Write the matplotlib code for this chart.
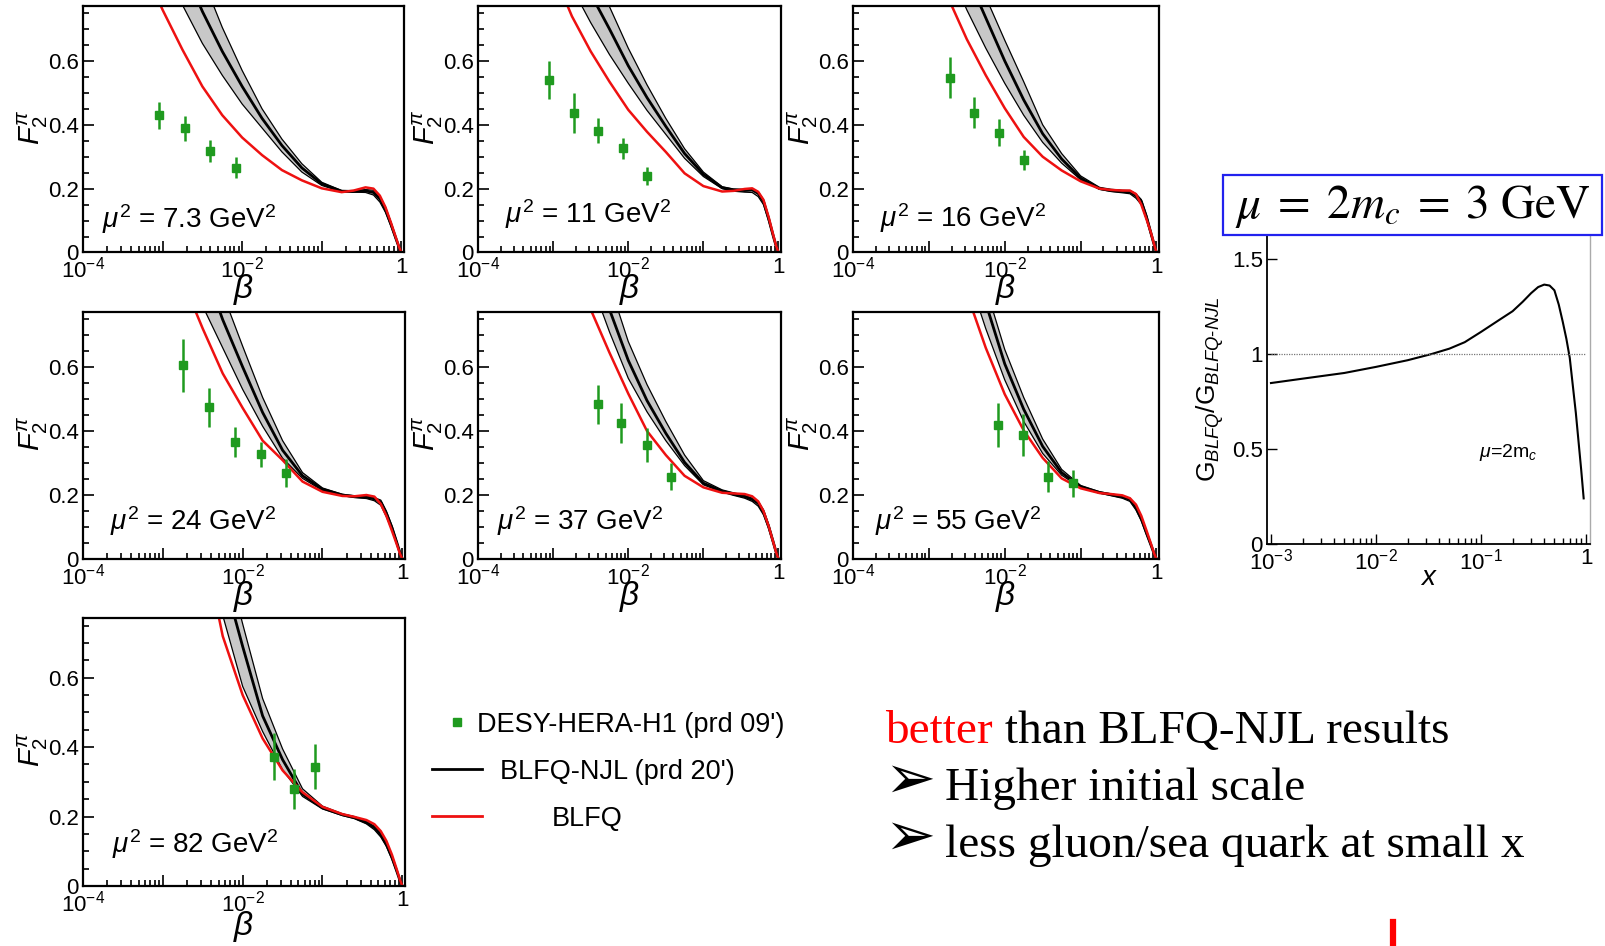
import numpy as np
import matplotlib.pyplot as plt
from matplotlib.ticker import FixedLocator, MultipleLocator, LogLocator, NullFormatter
from matplotlib.patches import Rectangle
from matplotlib.lines import Line2D

W, H = 1606, 946

plt.rcParams['font.family'] = ['Liberation Sans', 'DejaVu Sans']
plt.rcParams['mathtext.fontset'] = 'custom'
plt.rcParams['mathtext.rm'] = 'Liberation Sans'
plt.rcParams['mathtext.it'] = 'Liberation Sans:italic'
plt.rcParams['mathtext.bf'] = 'Liberation Sans:bold'

# common log10(beta) grid for the model curves
log_beta = [-3.25, -3.0, -2.75, -2.5, -2.25, -2.0, -1.75, -1.5, -1.25, -1.0,
            -0.75, -0.6, -0.45, -0.35, -0.27, -0.2, -0.13, -0.07, -0.03, 0.0]

# mu^2 = 7.3
red_73 = [0.90, 0.76, 0.635, 0.52, 0.43, 0.36, 0.305, 0.258, 0.226, 0.201, 0.189, 0.194, 0.204, 0.200, 0.178, 0.142, 0.093, 0.048, 0.018, 0.0]
njl_73 = [1.25, 1.08, 0.90, 0.755, 0.63, 0.52, 0.42, 0.335, 0.265, 0.215, 0.192, 0.191, 0.193, 0.188, 0.168, 0.135, 0.088, 0.045, 0.017, 0.0]
lo_73 = [1.10, 0.92, 0.775, 0.655, 0.555, 0.465, 0.39, 0.315, 0.252, 0.210, 0.190, 0.189, 0.188, 0.180, 0.158, 0.126, 0.082, 0.041, 0.015, 0.0]
hi_73 = [1.40, 1.20, 1.05, 0.86, 0.705, 0.57, 0.45, 0.355, 0.278, 0.220, 0.194, 0.194, 0.197, 0.195, 0.176, 0.143, 0.094, 0.049, 0.019, 0.0]
beta_73 = [9.0e-4, 1.9e-3, 4.0e-3, 8.4e-3]
f2_73 = [0.43, 0.389, 0.318, 0.266]
err_73 = [0.042, 0.039, 0.035, 0.032]

# mu^2 = 11
red_11 = [1.05, 0.88, 0.74, 0.63, 0.535, 0.447, 0.378, 0.315, 0.248, 0.208, 0.191, 0.193, 0.199, 0.201, 0.190, 0.165, 0.110, 0.055, 0.020, 0.0]
njl_11 = [1.30, 1.15, 1.00, 0.81, 0.70, 0.585, 0.485, 0.395, 0.31, 0.245, 0.203, 0.196, 0.194, 0.196, 0.185, 0.160, 0.105, 0.052, 0.019, 0.0]
lo_11 = [1.15, 1.00, 0.83, 0.72, 0.62, 0.53, 0.445, 0.37, 0.295, 0.238, 0.200, 0.192, 0.189, 0.188, 0.175, 0.150, 0.098, 0.048, 0.017, 0.0]
hi_11 = [1.50, 1.30, 1.10, 0.88, 0.77, 0.64, 0.525, 0.42, 0.325, 0.252, 0.206, 0.199, 0.198, 0.200, 0.190, 0.166, 0.111, 0.056, 0.021, 0.0]
beta_11 = [8.7e-4, 1.9e-3, 3.9e-3, 8.4e-3, 1.8e-2]
f2_11 = [0.541, 0.437, 0.382, 0.326, 0.24]
err_11 = [0.06, 0.063, 0.04, 0.034, 0.029]

# mu^2 = 16
red_16 = [1.20, 1.00, 0.80, 0.668, 0.555, 0.452, 0.362, 0.30, 0.257, 0.223, 0.200, 0.196, 0.194, 0.194, 0.183, 0.150, 0.103, 0.060, 0.025, 0.0]
njl_16 = [1.40, 1.20, 1.05, 0.87, 0.735, 0.60, 0.478, 0.372, 0.293, 0.233, 0.200, 0.194, 0.191, 0.190, 0.178, 0.160, 0.110, 0.058, 0.024, 0.0]
lo_16 = [1.20, 1.05, 0.90, 0.76, 0.64, 0.53, 0.43, 0.345, 0.28, 0.228, 0.198, 0.191, 0.187, 0.184, 0.170, 0.150, 0.102, 0.052, 0.021, 0.0]
hi_16 = [1.50, 1.35, 1.20, 1.00, 0.80, 0.665, 0.535, 0.40, 0.31, 0.24, 0.204, 0.198, 0.195, 0.194, 0.184, 0.166, 0.117, 0.063, 0.027, 0.0]
beta_16 = [1.9e-3, 3.9e-3, 8.3e-3, 1.8e-2]
f2_16 = [0.548, 0.438, 0.375, 0.29]
err_16 = [0.064, 0.048, 0.043, 0.032]

# mu^2 = 24
red_24 = [1.20, 1.05, 0.87, 0.72, 0.58, 0.472, 0.37, 0.309, 0.242, 0.210, 0.197, 0.196, 0.200, 0.195, 0.172, 0.135, 0.088, 0.046, 0.017, 0.0]
njl_24 = [1.50, 1.30, 1.10, 0.92, 0.748, 0.60, 0.458, 0.34, 0.26, 0.218, 0.200, 0.195, 0.193, 0.188, 0.178, 0.142, 0.098, 0.052, 0.020, 0.0]
lo_24 = [1.30, 1.15, 0.97, 0.79, 0.66, 0.53, 0.415, 0.315, 0.252, 0.214, 0.198, 0.192, 0.189, 0.182, 0.168, 0.132, 0.090, 0.047, 0.018, 0.0]
hi_24 = [1.60, 1.40, 1.20, 1.00, 0.83, 0.665, 0.505, 0.37, 0.27, 0.222, 0.202, 0.198, 0.196, 0.192, 0.184, 0.150, 0.104, 0.056, 0.022, 0.0]
beta_24 = [1.8e-3, 3.8e-3, 8.1e-3, 1.7e-2, 3.5e-2]
f2_24 = [0.605, 0.475, 0.366, 0.327, 0.268]
err_24 = [0.084, 0.061, 0.046, 0.04, 0.044]

# mu^2 = 37
red_37 = [1.30, 1.15, 1.00, 0.78, 0.645, 0.517, 0.40, 0.325, 0.26, 0.224, 0.207, 0.205, 0.203, 0.196, 0.180, 0.150, 0.102, 0.053, 0.020, 0.0]
njl_37 = [1.50, 1.35, 1.20, 0.98, 0.78, 0.621, 0.495, 0.393, 0.302, 0.237, 0.212, 0.203, 0.195, 0.186, 0.174, 0.147, 0.101, 0.053, 0.020, 0.0]
lo_37 = [1.40, 1.25, 1.10, 0.87, 0.71, 0.565, 0.46, 0.37, 0.292, 0.232, 0.209, 0.199, 0.190, 0.180, 0.165, 0.138, 0.094, 0.048, 0.018, 0.0]
hi_37 = [1.60, 1.45, 1.30, 1.08, 0.86, 0.68, 0.545, 0.43, 0.325, 0.245, 0.216, 0.207, 0.199, 0.190, 0.180, 0.154, 0.107, 0.057, 0.022, 0.0]
beta_37 = [3.9e-3, 8.1e-3, 1.75e-2, 3.7e-2]
f2_37 = [0.484, 0.425, 0.356, 0.257]
err_37 = [0.061, 0.062, 0.053, 0.042]

# mu^2 = 55
red_55 = [1.40, 1.25, 1.10, 0.83, 0.66, 0.515, 0.402, 0.316, 0.252, 0.221, 0.206, 0.203, 0.199, 0.190, 0.170, 0.135, 0.088, 0.046, 0.017, 0.0]
njl_55 = [1.60, 1.45, 1.30, 1.00, 0.80, 0.61, 0.468, 0.352, 0.27, 0.226, 0.208, 0.201, 0.194, 0.186, 0.160, 0.126, 0.080, 0.042, 0.016, 0.0]
lo_55 = [1.50, 1.35, 1.20, 0.90, 0.72, 0.56, 0.43, 0.33, 0.262, 0.223, 0.206, 0.198, 0.190, 0.180, 0.153, 0.119, 0.075, 0.039, 0.014, 0.0]
hi_55 = [1.70, 1.55, 1.40, 1.07, 0.85, 0.655, 0.505, 0.375, 0.28, 0.23, 0.210, 0.204, 0.197, 0.190, 0.166, 0.132, 0.085, 0.045, 0.018, 0.0]
beta_55 = [8.2e-3, 1.75e-2, 3.7e-2, 7.9e-2]
f2_55 = [0.419, 0.387, 0.257, 0.236]
err_55 = [0.068, 0.065, 0.049, 0.042]

# mu^2 = 82
red_82 = [1.50, 1.35, 1.20, 1.00, 0.72, 0.55, 0.425, 0.333, 0.27, 0.228, 0.207, 0.199, 0.190, 0.178, 0.158, 0.130, 0.090, 0.048, 0.018, 0.0]
njl_82 = [1.80, 1.60, 1.40, 1.15, 0.90, 0.69, 0.49, 0.364, 0.265, 0.225, 0.205, 0.197, 0.183, 0.168, 0.148, 0.120, 0.082, 0.043, 0.016, 0.0]
lo_82 = [1.60, 1.45, 1.30, 1.05, 0.78, 0.575, 0.445, 0.335, 0.258, 0.222, 0.203, 0.194, 0.179, 0.162, 0.141, 0.114, 0.077, 0.040, 0.015, 0.0]
hi_82 = [1.90, 1.70, 1.50, 1.25, 0.98, 0.755, 0.54, 0.395, 0.28, 0.23, 0.208, 0.200, 0.186, 0.172, 0.153, 0.125, 0.086, 0.046, 0.018, 0.0]
beta_82 = [2.5e-2, 4.4e-2, 8.1e-2]
f2_82 = [0.372, 0.279, 0.344]
err_82 = [0.068, 0.057, 0.065]

# gluon ratio G_BLFQ / G_BLFQ-NJL at mu = 2 m_c
ratio_x = [1e-3, 2e-3, 5e-3, 1e-2, 2e-2, 3.4e-2, 5e-2, 0.07, 0.1, 0.15, 0.2, 0.25,
           0.3, 0.35, 0.4, 0.45, 0.5, 0.55, 0.6, 0.65, 0.7, 0.8, 0.9, 0.95]
ratio = [0.847, 0.87, 0.90, 0.932, 0.967, 1.0, 1.028, 1.062, 1.116, 1.18, 1.225, 1.275,
         1.32, 1.352, 1.365, 1.36, 1.335, 1.26, 1.17, 1.08, 0.98, 0.69, 0.39, 0.24]

GREEN = '#1f9a1f'
RED = '#ee1111'

fig = plt.figure(figsize=(W / 100, H / 100), dpi=100)


def px_axes(l, t, r, b):
    return fig.add_axes([l / W, 1 - b / H, (r - l) / W, (b - t) / H])


panels = [
    ((83, 6, 404, 252.5), red_73, njl_73, lo_73, hi_73, beta_73, f2_73, err_73, '7.3', (0.058, 0.10)),
    ((478, 6, 781, 252.5), red_11, njl_11, lo_11, hi_11, beta_11, f2_11, err_11, '11', (0.089, 0.12)),
    ((853, 6, 1159, 252.5), red_16, njl_16, lo_16, hi_16, beta_16, f2_16, err_16, '16', (0.088, 0.105)),
    ((83, 312, 405, 559), red_24, njl_24, lo_24, hi_24, beta_24, f2_24, err_24, '24', (0.084, 0.117)),
    ((478, 312, 781, 559), red_37, njl_37, lo_37, hi_37, beta_37, f2_37, err_37, '37', (0.063, 0.117)),
    ((853, 312, 1159, 559), red_55, njl_55, lo_55, hi_55, beta_55, f2_55, err_55, '55', (0.072, 0.117)),
    ((83, 618, 405, 886), red_82, njl_82, lo_82, hi_82, beta_82, f2_82, err_82, '82', (0.09, 0.123)),
]

beta = 10 ** np.array(log_beta)

for box, red, njl, lo, hi, bx, by, be, mu2, (tx, ty) in panels:
    ax = px_axes(*box)
    ax.fill(np.r_[beta, beta[::-1]], np.r_[lo, hi[::-1]], color='#c8c8c8', lw=0)
    ax.plot(beta, lo, color='k', lw=0.9)
    ax.plot(beta, hi, color='k', lw=0.9)
    ax.plot(beta, njl, color='k', lw=2.0)
    ax.plot(beta, red, color=RED, lw=1.8)
    ax.errorbar(bx, by, yerr=be, fmt='s', color=GREEN, ms=6,
                elinewidth=1.8, capsize=0, zorder=5)
    ax.set_xscale('log')
    ax.set_xlim(1e-4, 1.08)
    ax.set_ylim(0, 0.772)
    ax.yaxis.set_major_locator(FixedLocator([0, 0.2, 0.4, 0.6]))
    ax.set_yticklabels(['0', '0.2', '0.4', '0.6'])
    ax.yaxis.set_minor_locator(MultipleLocator(0.05))
    ax.set_xticks([1e-4, 1e-3, 1e-2, 1e-1, 1],
                  labels=[r'$10^{-4}$', '', r'$10^{-2}$', '', '1'])
    ax.xaxis.set_minor_locator(LogLocator(base=10, subs=np.arange(2, 10), numticks=20))
    ax.xaxis.set_minor_formatter(NullFormatter())
    ax.tick_params(which='both', direction='in', top=False, right=False,
                   labelsize=16, width=1.2, pad=3)
    ax.tick_params(which='major', length=8)
    ax.tick_params(which='minor', length=4)
    for s in ax.spines.values():
        s.set_linewidth(1.6)
    ax.text(tx, ty, r'$\mu^2$ = ' + mu2 + r' GeV$^2$', transform=ax.transAxes,
            fontsize=20, ha='left', va='baseline')
    ax.text(-50 / (box[2] - box[0]), 0.51, r'$F_2^{\pi}$', transform=ax.transAxes,
            rotation=90, fontsize=21, ha='center', va='center')
    ax.text(0.5, -0.15, r'$\beta$', transform=ax.transAxes, fontsize=24,
            ha='center', va='center')

# gluon ratio panel
axr = px_axes(1267, 235, 1590, 544)
axr.plot(ratio_x, ratio, color='k', lw=1.5)
axr.hlines(1, 1e-3, 1, color='#777777', lw=0.9, linestyles=(0, (1, 1)))
axr.set_xscale('log')
axr.set_xlim(10 ** -3.038, 10 ** 0.038)
axr.set_ylim(0, 1.626)
axr.set_yticks([0, 0.5, 1, 1.5], labels=['0', '0.5', '1', '1.5'])
axr.set_xticks([1e-3, 1e-2, 1e-1, 1],
               labels=[r'$10^{-3}$', r'$10^{-2}$', r'$10^{-1}$', '1'])
axr.xaxis.set_minor_locator(LogLocator(base=10, subs=np.arange(2, 10), numticks=20))
axr.xaxis.set_minor_formatter(NullFormatter())
axr.tick_params(which='both', direction='in', top=False, right=False,
                labelsize=16, width=1.0, pad=3)
axr.tick_params(which='major', length=7)
axr.tick_params(which='minor', length=4)
axr.spines['top'].set_visible(False)
axr.spines['right'].set_color('#aaaaaa')
axr.spines['right'].set_linewidth(1.0)
axr.spines['left'].set_linewidth(1.3)
axr.spines['bottom'].set_linewidth(1.3)
axr.text(0.095, 0.458, r'$\mu$=2m$_c$', fontsize=14, ha='left', va='baseline')
axr.text(0.5, -0.11, r'$x$', transform=axr.transAxes, fontsize=20,
         ha='center', va='center')
axr.text(-0.175, 0.5, r'G$_{BLFQ}$/G$_{BLFQ\text{-}NJL}$', transform=axr.transAxes,
         rotation=90, fontsize=19, ha='center', va='center')

# blue title box
fig.patches.append(Rectangle((1223 / W, 1 - 235 / H), (1602 - 1223) / W, 60 / H,
                             transform=fig.transFigure, facecolor='white',
                             edgecolor='#2222ee', lw=1.6, zorder=5))
fig.text(1413 / W, 1 - 206 / H, r'$\mu\;=\;2m_c\;=\;3\ \mathrm{GeV}$', fontsize=34,
         math_fontfamily='stix', ha='center', va='center', zorder=6)

# legend drawn by hand, ROOT style
fig.add_artist(Line2D([457 / W], [1 - 722 / H], marker='s', color=GREEN, ms=5.5,
                      transform=fig.transFigure))
fig.add_artist(Line2D([432 / W, 482 / W], [1 - 769 / H] * 2, color='k', lw=2.0,
                      transform=fig.transFigure))
fig.add_artist(Line2D([432 / W, 482 / W], [1 - 816 / H] * 2, color=RED, lw=2.0,
                      transform=fig.transFigure))
fig.text(477 / W, 1 - 732 / H, "DESY-HERA-H1 (prd 09')", fontsize=19.5, va='baseline')
fig.text(500 / W, 1 - 779 / H, "BLFQ-NJL (prd 20')", fontsize=19.5, va='baseline')
fig.text(552 / W, 1 - 826 / H, "BLFQ", fontsize=19.5, va='baseline')

# slide text
serif = ['Liberation Serif', 'DejaVu Serif']
t1 = fig.text(885 / W, 1 - 743 / H, 'better', color='red', fontsize=34,
              family=serif, va='baseline')
renderer = fig.canvas.get_renderer()
w1 = t1.get_window_extent(renderer=renderer).width
fig.text((885 + w1) / W, 1 - 743 / H, ' than BLFQ-NJL results', fontsize=34,
         family=serif, va='baseline')
for yb, line in [(800, 'Higher initial scale'), (857, 'less gluon/sea quark at small x')]:
    fig.text(884 / W, 1 - (yb - 2) / H, '\u27a2', fontsize=44, family=['DejaVu Sans'],
             va='baseline')
    fig.text(945 / W, 1 - yb / H, line, fontsize=34, family=serif, va='baseline')

# red mark cut off at the bottom edge of the slide
fig.add_artist(Line2D([1393 / W] * 2, [0, 1 - 922 / H], color='red', lw=4.5,
                      transform=fig.transFigure))

fig.savefig('out.png', dpi=100)
